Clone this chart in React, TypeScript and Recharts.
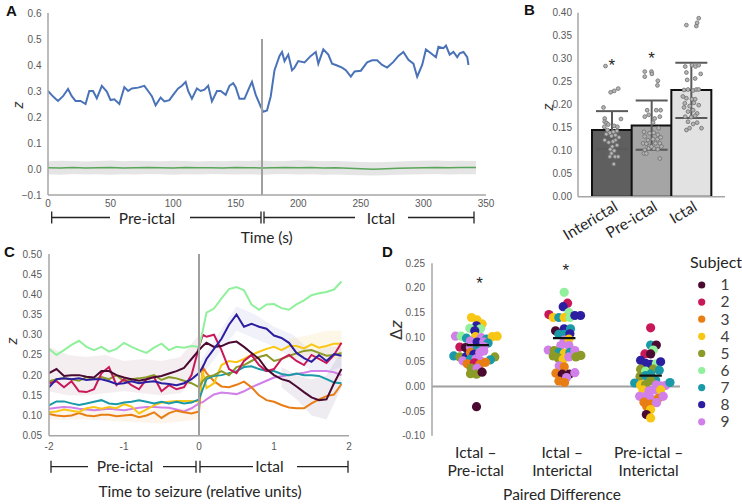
import React from 'react';
import {
  ComposedChart,
  Line,
  Area,
  Bar,
  ErrorBar,
  Scatter,
  Cell,
  XAxis,
  YAxis,
  ReferenceLine,
} from 'recharts';

// ---------- Panel A: z over the recording vs. null distribution
const aTime = [0, 3, 6, 8, 12, 16, 19, 22, 26, 30, 33, 36, 39, 43, 47, 50, 53, 57, 61, 64, 67, 72, 77, 80, 83, 86, 90, 93, 97, 100, 104, 107, 110, 112, 115, 119, 122, 125, 128, 131, 135, 138, 142, 145, 148, 150, 153, 157, 161, 163, 166, 170, 172, 175, 178, 181, 185, 187, 189, 192, 195, 197, 200, 205, 210, 214, 216, 220, 224, 227, 230, 235, 238, 242, 245, 250, 255, 259, 263, 267, 271, 276, 280, 284, 288, 292, 295, 299, 302, 306, 310, 312, 316, 318, 321, 324, 327, 329, 332, 335, 336];
const aZ = [0.30, 0.284, 0.27, 0.262, 0.28, 0.308, 0.28, 0.262, 0.262, 0.25, 0.30, 0.30, 0.272, 0.32, 0.298, 0.265, 0.268, 0.25, 0.315, 0.30, 0.31, 0.313, 0.32, 0.30, 0.28, 0.245, 0.275, 0.26, 0.265, 0.285, 0.31, 0.32, 0.335, 0.30, 0.27, 0.31, 0.30, 0.305, 0.32, 0.26, 0.30, 0.30, 0.285, 0.32, 0.33, 0.315, 0.27, 0.27, 0.315, 0.335, 0.285, 0.24, 0.22, 0.225, 0.28, 0.38, 0.435, 0.45, 0.415, 0.44, 0.38, 0.39, 0.415, 0.41, 0.435, 0.45, 0.405, 0.46, 0.44, 0.405, 0.40, 0.39, 0.38, 0.355, 0.375, 0.378, 0.41, 0.418, 0.418, 0.40, 0.39, 0.412, 0.435, 0.45, 0.42, 0.405, 0.355, 0.40, 0.46, 0.445, 0.43, 0.47, 0.465, 0.475, 0.44, 0.45, 0.43, 0.445, 0.45, 0.43, 0.40];
const aNullTime = [0, 10, 20, 30, 40, 50, 60, 70, 80, 90, 100, 110, 120, 130, 140, 150, 160, 170, 180, 190, 200, 210, 220, 230, 240, 250, 260, 270, 280, 290, 300, 310, 320, 330, 342];
const aNull = [0.005, 0.004, 0.006, 0.004, 0.005, 0.006, 0.004, 0.005, 0.006, 0.005, 0.004, 0.006, 0.005, 0.005, 0.004, 0.006, 0.005, 0.004, 0.005, 0.006, 0.005, 0.006, 0.004, 0.005, 0.003, 0.001, -0.001, 0.001, 0.003, 0.004, 0.005, 0.006, 0.005, 0.006, 0.006];
const aNullLow = [-0.02, -0.022, -0.019, -0.021, -0.02, -0.022, -0.02, -0.021, -0.019, -0.02, -0.022, -0.02, -0.021, -0.019, -0.02, -0.021, -0.02, -0.022, -0.02, -0.019, -0.021, -0.02, -0.022, -0.021, -0.023, -0.024, -0.025, -0.024, -0.022, -0.021, -0.02, -0.019, -0.021, -0.02, -0.02];
const aNullHigh = [0.03, 0.032, 0.031, 0.029, 0.031, 0.033, 0.03, 0.032, 0.031, 0.03, 0.032, 0.031, 0.029, 0.031, 0.03, 0.032, 0.031, 0.033, 0.03, 0.031, 0.034, 0.032, 0.03, 0.031, 0.029, 0.027, 0.026, 0.027, 0.029, 0.031, 0.032, 0.033, 0.031, 0.032, 0.031];
const aOnset = 171;
const aXTicks = [0, 50, 100, 150, 200, 250, 300, 350];
const aYTicks = [-0.1, 0, 0.1, 0.2, 0.3, 0.4, 0.5, 0.6];

// ---------- Panel B: mean z per state
const bCategories = ['Interictal', 'Pre-ictal', 'Ictal'];
const bMeans = [0.145, 0.155, 0.232];
const bSdLow = [0.104, 0.102, 0.171];
const bSdHigh = [0.186, 0.209, 0.291];
const bStars = [0.293, 0.309, 0.413];
const bYTicks = [0, 0.05, 0.1, 0.15, 0.2, 0.25, 0.3, 0.35, 0.4];
// [jitter, z]
const bInterictal: [number, number][] = [
  [-0.16, 0.284], [-0.03, 0.227], [0.06, 0.23], [0.16, 0.235], [-0.21, 0.194], [0.23, 0.169], [-0.18, 0.17],
  [-0.18, 0.163], [-0.13, 0.16], [-0.19, 0.152], [-0.09, 0.157], [0.06, 0.154], [0.14, 0.152], [-0.05, 0.139],
  [0.04, 0.141], [0.13, 0.143], [-0.14, 0.136], [-0.01, 0.132], [0.09, 0.134], [0.18, 0.129], [-0.18, 0.123],
  [-0.08, 0.118], [0.01, 0.109], [0.13, 0.112], [-0.04, 0.103], [0.06, 0.1], [-0.01, 0.094], [0.08, 0.087],
  [0.16, 0.087], [-0.05, 0.087], [0.05, 0.071], [-0.11, 0.145], [0.09, 0.123], [0.03, 0.12],
];
const bPreictal: [number, number][] = [
  [-0.17, 0.272], [0, 0.272], [0.01, 0.267], [-0.17, 0.261], [0.16, 0.252], [0.15, 0.242], [0.23, 0.188],
  [-0.11, 0.188], [0.12, 0.188], [-0.17, 0.174], [-0.07, 0.178], [0.08, 0.17], [0.21, 0.174], [0.04, 0.161],
  [0.18, 0.149], [-0.19, 0.141], [-0.05, 0.138], [0.06, 0.139], [0.16, 0.135], [-0.17, 0.131], [-0.09, 0.123],
  [0.04, 0.125], [0.15, 0.125], [0.23, 0.129], [-0.21, 0.116], [-0.13, 0.115], [-0.05, 0.11], [0.1, 0.116],
  [0.21, 0.116], [0.25, 0.109], [-0.17, 0.102], [-0.07, 0.105], [0.06, 0.105], [0.16, 0.103], [-0.19, 0.094],
  [0.21, 0.083], [0, 0.109], [-0.13, 0.094],
];
const bIctal: [number, number][] = [
  [-0.12, 0.373], [0.13, 0.371], [0.19, 0.388], [0.15, 0.378], [-0.15, 0.283], [0.02, 0.286], [0.11, 0.283],
  [0.19, 0.286], [-0.12, 0.27], [0.24, 0.267], [-0.1, 0.254], [0.1, 0.257], [-0.18, 0.232], [-0.08, 0.233],
  [0.05, 0.231], [0.13, 0.233], [0.19, 0.233], [-0.21, 0.218], [-0.12, 0.214], [0.02, 0.212], [0.1, 0.212],
  [-0.16, 0.203], [-0.04, 0.197], [0.07, 0.204], [0.19, 0.199], [-0.18, 0.194], [-0.08, 0.185], [0.05, 0.188],
  [0.15, 0.181], [-0.15, 0.174], [0, 0.173], [0.1, 0.176], [-0.08, 0.163], [0.05, 0.158], [0.15, 0.161],
  [-0.12, 0.145], [-0.04, 0.149], [0.26, 0.149],
];

// ---------- Panel C: per-subject z around seizure onset
const cTime = [-2, -1.9, -1.8, -1.7, -1.6, -1.5, -1.4, -1.3, -1.2, -1.1, -1, -0.9, -0.8, -0.7, -0.6, -0.5, -0.4, -0.3, -0.2, -0.1, 0, 0.05, 0.1, 0.2, 0.3, 0.4, 0.5, 0.6, 0.7, 0.8, 0.9, 1, 1.1, 1.2, 1.3, 1.4, 1.5, 1.6, 1.7, 1.8, 1.9];
const c1 = [0.205, 0.215, 0.198, 0.2, 0.2, 0.196, 0.194, 0.21, 0.21, 0.2, 0.194, 0.19, 0.186, 0.19, 0.195, 0.198, 0.204, 0.21, 0.218, 0.24, 0.262, 0.272, 0.28, 0.27, 0.272, 0.28, 0.283, 0.27, 0.255, 0.24, 0.215, 0.2, 0.19, 0.185, 0.172, 0.158, 0.145, 0.138, 0.14, 0.18, 0.215];
const c2 = [0.18, 0.185, 0.17, 0.185, 0.16, 0.158, 0.165, 0.205, 0.22, 0.175, 0.19, 0.175, 0.165, 0.19, 0.195, 0.16, 0.175, 0.165, 0.17, 0.2, 0.27, 0.3, 0.295, 0.3, 0.262, 0.215, 0.205, 0.235, 0.25, 0.225, 0.21, 0.215, 0.24, 0.25, 0.235, 0.225, 0.25, 0.24, 0.23, 0.25, 0.28];
const c3 = [0.104, 0.1, 0.098, 0.1, 0.106, 0.1, 0.098, 0.102, 0.102, 0.098, 0.1, 0.102, 0.096, 0.1, 0.108, 0.094, 0.106, 0.112, 0.108, 0.105, 0.11, 0.22, 0.205, 0.185, 0.172, 0.17, 0.176, 0.184, 0.17, 0.15, 0.138, 0.134, 0.126, 0.12, 0.118, 0.118, 0.13, 0.14, 0.148, 0.152, 0.178];
const c4 = [0.108, 0.11, 0.115, 0.112, 0.109, 0.118, 0.121, 0.117, 0.121, 0.118, 0.128, 0.122, 0.105, 0.115, 0.125, 0.132, 0.134, 0.136, 0.136, 0.136, 0.135, 0.21, 0.168, 0.18, 0.225, 0.235, 0.232, 0.24, 0.25, 0.258, 0.265, 0.27, 0.262, 0.272, 0.272, 0.266, 0.276, 0.268, 0.272, 0.278, 0.278];
const c5 = [0.185, 0.19, 0.192, 0.19, 0.186, 0.195, 0.19, 0.195, 0.19, 0.2, 0.185, 0.19, 0.192, 0.195, 0.2, 0.188, 0.195, 0.192, 0.186, 0.18, 0.17, 0.185, 0.195, 0.2, 0.21, 0.2, 0.22, 0.225, 0.235, 0.245, 0.25, 0.235, 0.24, 0.248, 0.254, 0.26, 0.262, 0.255, 0.248, 0.25, 0.255];
const c6 = [0.265, 0.25, 0.262, 0.275, 0.285, 0.27, 0.262, 0.27, 0.258, 0.265, 0.28, 0.27, 0.262, 0.255, 0.268, 0.278, 0.262, 0.27, 0.268, 0.272, 0.27, 0.31, 0.355, 0.365, 0.39, 0.413, 0.418, 0.41, 0.375, 0.362, 0.375, 0.376, 0.366, 0.362, 0.375, 0.385, 0.398, 0.403, 0.406, 0.412, 0.432];
const c7 = [0.125, 0.135, 0.135, 0.13, 0.126, 0.13, 0.134, 0.138, 0.13, 0.128, 0.132, 0.134, 0.138, 0.134, 0.13, 0.134, 0.13, 0.134, 0.13, 0.132, 0.14, 0.165, 0.19, 0.198, 0.2, 0.205, 0.21, 0.22, 0.222, 0.215, 0.21, 0.21, 0.203, 0.2, 0.204, 0.2, 0.2, 0.198, 0.19, 0.182, 0.18];
const c8 = [0.17, 0.19, 0.192, 0.19, 0.192, 0.188, 0.19, 0.19, 0.185, 0.178, 0.18, 0.185, 0.18, 0.183, 0.185, 0.18, 0.178, 0.175, 0.18, 0.19, 0.205, 0.22, 0.24, 0.265, 0.29, 0.325, 0.35, 0.32, 0.327, 0.32, 0.315, 0.298, 0.292, 0.28, 0.255, 0.242, 0.233, 0.25, 0.235, 0.252, 0.248];
const c9 = [0.117, 0.119, 0.121, 0.12, 0.117, 0.115, 0.113, 0.115, 0.117, 0.115, 0.113, 0.116, 0.119, 0.121, 0.121, 0.12, 0.119, 0.115, 0.11, 0.118, 0.13, 0.133, 0.14, 0.152, 0.157, 0.155, 0.153, 0.16, 0.17, 0.178, 0.186, 0.194, 0.197, 0.2, 0.203, 0.206, 0.21, 0.21, 0.21, 0.207, 0.2];
// shaded error bands: [time, low, high]
const cBandEarly: [number, number, number][] = [[-2, 0.16, 0.27], [-1.75, 0.15, 0.25], [-1.5, 0.15, 0.245], [-1.25, 0.155, 0.25], [-1, 0.16, 0.235], [-0.75, 0.155, 0.24], [-0.5, 0.15, 0.235], [-0.25, 0.155, 0.245], [0, 0.2, 0.3]];
const cBandLowEarly: [number, number, number][] = [[-2, 0.09, 0.115], [-1.5, 0.09, 0.115], [-1, 0.085, 0.11], [-0.5, 0.08, 0.115], [0, 0.09, 0.12]];
const cBandPeak: [number, number, number][] = [[0, 0.19, 0.23], [0.25, 0.25, 0.3], [0.5, 0.31, 0.37], [0.75, 0.29, 0.35], [1, 0.27, 0.32], [1.25, 0.24, 0.3], [1.5, 0.21, 0.26], [1.75, 0.21, 0.27], [1.9, 0.22, 0.27]];
const cBandLate: [number, number, number][] = [[1.1, 0.17, 0.22], [1.3, 0.14, 0.2], [1.5, 0.1, 0.19], [1.7, 0.09, 0.2], [1.9, 0.17, 0.26]];
const cBandHigh: [number, number, number][] = [[1.2, 0.24, 0.29], [1.5, 0.25, 0.3], [1.7, 0.24, 0.31], [1.9, 0.24, 0.31]];
const cXTicks = [-2, -1, 0, 1, 2];
const cYTicks = [0.05, 0.1, 0.15, 0.2, 0.25, 0.3, 0.35, 0.4, 0.45, 0.5];

// ---------- Panel D: paired differences, one dot per subject session
const subjects = [1, 2, 3, 4, 5, 6, 7, 8, 9];
const dPairs = [['Ictal \u2013', 'Pre-ictal'], ['Ictal \u2013', 'Interictal'], ['Pre-ictal \u2013', 'Interictal']];
// [jitter, delta z, subject]
const dIctalPre: [number, number, number][] = [
  [-0.073, 0.14, 4], [-0.008, 0.135, 4], [0.05, 0.127, 4], [-0.015, 0.123, 8], [-0.092, 0.118, 6], [0.031, 0.117, 6],
  [-0.035, 0.113, 8], [-0.258, 0.102, 9], [-0.193, 0.102, 6], [-0.131, 0.098, 7], [-0.027, 0.101, 4], [0.039, 0.099, 9],
  [0.1, 0.096, 7], [0.166, 0.101, 4], [0.224, 0.102, 4], [-0.085, 0.092, 9], [-0.008, 0.09, 8], [0.069, 0.09, 9],
  [0.119, 0.088, 7], [-0.208, 0.08, 2], [-0.143, 0.079, 1], [-0.085, 0.079, 9], [-0.008, 0.076, 7], [0.069, 0.081, 9],
  [-0.278, 0.062, 7], [-0.208, 0.06, 5], [-0.131, 0.061, 8], [-0.085, 0.069, 3], [-0.046, 0.065, 8], [0.023, 0.069, 9],
  [0.069, 0.072, 9], [0.197, 0.06, 5], [-0.173, 0.052, 9], [-0.085, 0.055, 7], [-0.019, 0.056, 9], [0.031, 0.052, 9],
  [0.146, 0.054, 7], [-0.123, 0.046, 3], [-0.039, 0.048, 2], [0.023, 0.045, 3], [0.089, 0.049, 3], [-0.077, 0.037, 5],
  [-0.008, 0.037, 9], [-0.085, 0.026, 5], [-0.015, 0.025, 5], [0.05, 0.029, 1], [-0.015, -0.041, 1],
];
const dIctalInter: [number, number, number][] = [
  [0, 0.191, 6], [0.039, 0.169, 2], [-0.012, 0.162, 8], [0.054, 0.15, 6], [-0.177, 0.146, 2], [-0.127, 0.14, 4],
  [-0.062, 0.14, 7], [0, 0.14, 4], [0.066, 0.14, 6], [0.123, 0.144, 8], [0.189, 0.144, 8], [-0.1, 0.113, 1],
  [0, 0.117, 8], [0.073, 0.117, 7], [-0.062, 0.106, 7], [0, 0.106, 7], [0.066, 0.107, 8], [0, 0.094, 9],
  [0.054, 0.096, 4], [-0.039, 0.083, 9], [0.054, 0.083, 9], [-0.185, 0.074, 9], [-0.116, 0.073, 5], [-0.062, 0.069, 7],
  [0, 0.067, 4], [0.066, 0.069, 7], [0.123, 0.073, 9], [-0.127, 0.062, 5], [-0.069, 0.058, 5], [-0.012, 0.055, 4],
  [0.054, 0.06, 9], [0.135, 0.06, 5], [0.193, 0.063, 5], [-0.058, 0.042, 9], [0, 0.04, 3], [-0.096, 0.027, 3],
  [-0.023, 0.025, 1], [0.058, 0.025, 1], [0.123, 0.028, 9], [0.027, 0.018, 9], [-0.062, 0.011, 3], [0.004, 0.008, 3],
];
const dPreInter: [number, number, number][] = [
  [0, 0.119, 2], [0, 0.084, 7], [0.066, 0.084, 1], [0.031, 0.074, 6], [-0.066, 0.066, 2], [0, 0.066, 1],
  [-0.116, 0.053, 8], [-0.058, 0.047, 8], [0, 0.045, 8], [0.066, 0.046, 6], [0.116, 0.05, 8], [-0.116, 0.035, 5],
  [-0.058, 0.031, 6], [0.031, 0.035, 5], [0.1, 0.033, 7], [-0.123, 0.02, 5], [-0.058, 0.022, 7], [0, 0.025, 7],
  [0.058, 0.013, 7], [-0.185, 0.007, 7], [-0.116, 0.003, 4], [-0.058, 0.004, 5], [0, 0.012, 5], [0.066, 0.003, 9],
  [0.116, 0.001, 9], [0.173, 0.002, 9], [0.224, 0.008, 7], [-0.089, -0.007, 4], [-0.019, -0.009, 9], [0.046, -0.007, 9],
  [0.116, -0.007, 4], [-0.127, -0.02, 9], [-0.069, -0.021, 9], [0, -0.024, 9], [0.089, -0.024, 3], [0.146, -0.02, 9],
  [-0.077, -0.032, 3], [0, -0.036, 3], [0.069, -0.033, 9], [-0.046, -0.04, 3], [0, -0.047, 4], [-0.05, -0.057, 1],
  [0, -0.064, 4],
];
const dMeans = [0.084, 0.098, 0.022];
const dStars = [0.216, 0.242];
const dYTicks = [-0.1, -0.05, 0, 0.05, 0.1, 0.15, 0.2, 0.25];

// ---------- styling
const TICK_FONT = '"Liberation Sans", Arial, sans-serif';
const LABEL_FONT = 'Lato, "Open Sans", sans-serif';
const TICK_COLOR = '#595959';
const TEXT_COLOR = '#262626';
const AXIS_COLOR = '#a6a6a6';
const SUBJECT_COLORS = ['#4a0a32', '#c8185a', '#e87d14', '#f8c614', '#8c9a28', '#90f09c', '#1a9aa8', '#2c1ea0', '#d080e8'];
const B_FILLS = ['#5f5f5f', '#a5a5a5', '#e2e2e2'];
const C_DRAW_ORDER = [9, 3, 4, 7, 5, 2, 1, 8, 6];
const MEAN_HALF_WIDTH = 0.13;

const tickStyle = { fill: TICK_COLOR, fontSize: 10, fontFamily: TICK_FONT };
const axisLine = { stroke: AXIS_COLOR, strokeWidth: 1.5 };

// ---------- derived tables
const aZData = aTime.map((t, i) => ({ t, v: aZ[i] }));
const aNullData = aNullTime.map((t, i) => ({ t, v: aNull[i], band: [aNullLow[i], aNullHigh[i]] }));

const bBarData = bCategories.map((name, i) => ({
  name,
  value: bMeans[i],
  err: [bMeans[i] - bSdLow[i], bSdHigh[i] - bMeans[i]],
}));
const bPoints = [bInterictal, bPreictal, bIctal].flatMap((pts, c) => pts.map(([dx, v]) => ({ x: c + dx, y: v })));
const bStarData = bStars.map((v, i) => ({ x: i, y: v }));

const cSeries = [c1, c2, c3, c4, c5, c6, c7, c8, c9];
const cData = cTime.map((t, i) => {
  const row: Record<string, number> = { t };
  cSeries.forEach((s, k) => {
    row[`s${k + 1}`] = s[i];
  });
  return row;
});
const toBand = (b: [number, number, number][]) => b.map(([t, lo, hi]) => ({ t, band: [lo, hi] }));
const cBands = [
  { data: toBand(cBandEarly), fill: '#a77c95', opacity: 0.13 },
  { data: toBand(cBandLowEarly), fill: '#f0b27a', opacity: 0.15 },
  { data: toBand(cBandPeak), fill: '#8e8ad6', opacity: 0.12 },
  { data: toBand(cBandLate), fill: '#8f7a9e', opacity: 0.15 },
  { data: toBand(cBandHigh), fill: '#f3d27a', opacity: 0.18 },
];

const dGroups = [dIctalPre, dIctalInter, dPreInter].map((pts, c) =>
  pts.map(([dx, v, s]) => ({ x: c + dx, y: v, s })),
);
const dMeanSegments = dMeans.map((m, i) => [
  { x: i - MEAN_HALF_WIDTH, y: m },
  { x: i + MEAN_HALF_WIDTH, y: m },
]);
const dStarData = dStars.map((v, i) => ({ x: i + 0.02, y: v }));

// ---------- shapes
const StarShape = (props: any) => (
  <text x={props.cx} y={props.cy + 9} textAnchor="middle" fontSize={17} fontFamily={TICK_FONT} fill="#262626">
    *
  </text>
);

const HollowDot = (props: any) => (
  <circle cx={props.cx} cy={props.cy} r={1.9} fill="#b4b4b4" stroke="#6e6e6e" strokeWidth={0.8} />
);

const SubjectDot = (props: any) => (
  <circle cx={props.cx} cy={props.cy} r={4.6} fill={SUBJECT_COLORS[props.payload.s - 1]} />
);

const NoDot = () => <g />;

const fmt1 = (v: number) => (v < -1e-9 ? `\u2212${Math.abs(v).toFixed(1)}` : Math.abs(v).toFixed(1));
const fmt2 = (v: number) => v.toFixed(2);

// y ticks of panel A drawn by hand so the minus sign is kept
const ATick = (props: any) => {
  const { x, y, payload } = props;
  return (
    <text x={x} y={y} dy="0.355em" textAnchor="end" {...tickStyle}>
      {fmt1(payload.value)}
    </text>
  );
};

const BTick = (props: any) => {
  const { x, y, payload } = props;
  return (
    <g transform={`translate(${x + 7},${y + 11}) rotate(-31)`}>
      <text textAnchor="end" fontSize={15.5} fontFamily={LABEL_FONT} fill={TEXT_COLOR}>
        {payload.value}
      </text>
    </g>
  );
};

const DTick = (props: any) => {
  const { x, y, payload } = props;
  const lines = dPairs[payload.value] || [];
  return (
    <g>
      {lines.map((line, i) => (
        <text key={i} x={x - 2} y={y + 21.8 + i * 18.5} textAnchor="middle" fontSize={15.5} fontFamily={LABEL_FONT} fill={TEXT_COLOR}>
          {line}
        </text>
      ))}
    </g>
  );
};

// ---------- panels
const PanelA = () => (
  <ComposedChart width={500} height={215} margin={{ top: 13, right: 14, bottom: 0, left: 0 }}>
    <XAxis
      type="number"
      dataKey="t"
      domain={[0, 350]}
      ticks={aXTicks}
      allowDataOverflow
      axisLine={axisLine}
      tickLine={false}
      tickSize={0}
      tickMargin={4.5}
      height={20}
      interval={0}
      tick={tickStyle}
    />
    <YAxis
      type="number"
      domain={[-0.1, 0.6]}
      ticks={aYTicks}
      allowDataOverflow
      width={48}
      axisLine={axisLine}
      tickLine={false}
      tickSize={0}
      tickMargin={6.5}
      interval={0}
      tick={<ATick />}
    />
    <Area data={aNullData} dataKey="band" stroke="none" fill="#d0d0d0" fillOpacity={0.55} isAnimationActive={false} />
    <Line data={aNullData} dataKey="v" stroke="#5aa55a" strokeWidth={1.5} dot={false} isAnimationActive={false} />
    <Line data={aZData} dataKey="v" stroke="#4a72b8" strokeWidth={2} dot={false} isAnimationActive={false} />
    <ReferenceLine
      segment={[{ x: aOnset, y: -0.1 }, { x: aOnset, y: 0.5 }]}
      stroke="#a0a0a0"
      strokeWidth={2}
    />
  </ComposedChart>
);

const PanelB = () => (
  <ComposedChart
    width={222}
    height={260}
    data={bBarData}
    barCategoryGap={0}
    margin={{ top: 12.7, right: 17, bottom: 0, left: 0 }}
  >
    <XAxis
      xAxisId="cat"
      dataKey="name"
      padding={{ left: 14, right: 14 }}
      axisLine={axisLine}
      tickLine={false}
      tickSize={0}
      height={63.3}
      interval={0}
      tick={<BTick />}
    />
    <XAxis xAxisId="num" type="number" dataKey="x" domain={[-0.853, 2.853]} allowDataOverflow hide />
    <YAxis
      type="number"
      domain={[0, 0.4]}
      ticks={bYTicks}
      allowDataOverflow
      width={58}
      axisLine={axisLine}
      tickLine={false}
      tickSize={0}
      tickMargin={6}
      interval={0}
      tick={tickStyle}
      tickFormatter={fmt2}
    />
    <Bar xAxisId="cat" dataKey="value" stroke="#111" strokeWidth={2} isAnimationActive={false}>
      {bBarData.map((d, i) => (
        <Cell key={d.name} fill={B_FILLS[i]} />
      ))}
      <ErrorBar dataKey="err" width={16} strokeWidth={2} stroke="#5a5a5a" direction="y" />
    </Bar>
    <Scatter xAxisId="num" data={bPoints} dataKey="y" shape={HollowDot} isAnimationActive={false} />
    <Scatter xAxisId="num" data={bStarData} dataKey="y" shape={StarShape} isAnimationActive={false} />
  </ComposedChart>
);

const PanelC = () => (
  <ComposedChart width={370} height={205} data={cData} margin={{ top: 4, right: 21, bottom: 0, left: 0 }}>
    <XAxis
      type="number"
      dataKey="t"
      domain={[-2, 2]}
      ticks={cXTicks}
      allowDataOverflow
      axisLine={axisLine}
      tickLine={false}
      tickSize={0}
      tickMargin={7}
      height={19.3}
      interval={0}
      tick={tickStyle}
    />
    <YAxis
      type="number"
      domain={[0.05, 0.5]}
      ticks={cYTicks}
      allowDataOverflow
      width={49}
      axisLine={axisLine}
      tickLine={false}
      tickSize={0}
      tickMargin={7}
      interval={0}
      tick={tickStyle}
      tickFormatter={fmt2}
    />
    {cBands.map((b, i) => (
      <Area
        key={`band${i}`}
        data={b.data}
        dataKey="band"
        stroke="none"
        fill={b.fill}
        fillOpacity={b.opacity}
        isAnimationActive={false}
      />
    ))}
    {C_DRAW_ORDER.map((s) => (
      <Line
        key={`s${s}`}
        dataKey={`s${s}`}
        stroke={SUBJECT_COLORS[s - 1]}
        strokeWidth={2}
        dot={false}
        isAnimationActive={false}
      />
    ))}
    <ReferenceLine x={0} stroke="#a0a0a0" strokeWidth={2} />
  </ComposedChart>
);

const PanelD = () => (
  <ComposedChart width={330} height={254} margin={{ top: 13.3, right: 30, bottom: 0, left: 0 }}>
    <XAxis
      type="number"
      dataKey="x"
      domain={[-0.53, 2.34]}
      ticks={[0, 1, 2]}
      allowDataOverflow
      axisLine={false}
      tickLine={false}
      tickSize={0}
      tickMargin={0}
      height={68.3}
      interval={0}
      tick={<DTick />}
    />
    <YAxis
      type="number"
      domain={[-0.1, 0.25]}
      ticks={dYTicks}
      allowDataOverflow
      width={52}
      axisLine={axisLine}
      tickLine={false}
      tickSize={0}
      tickMargin={7}
      interval={0}
      tick={tickStyle}
      tickFormatter={fmt2}
    />
    <ReferenceLine y={0} stroke="#a0a0a0" strokeWidth={2} />
    {dGroups.map((g, i) => (
      <Scatter key={`grp${i}`} data={g} dataKey="y" shape={SubjectDot} isAnimationActive={false} />
    ))}
    {dMeanSegments.map((seg, i) => (
      <Scatter
        key={`mean${i}`}
        data={seg}
        dataKey="y"
        shape={NoDot}
        line={{ stroke: '#111', strokeWidth: 2.2 }}
        isAnimationActive={false}
      />
    ))}
    <Scatter data={dStarData} dataKey="y" shape={StarShape} isAnimationActive={false} />
  </ComposedChart>
);

// ---------- annotations outside the plot areas
const labelText = { fontFamily: LABEL_FONT, fontSize: 15.5, fill: TEXT_COLOR } as const;
const letterText = { fontFamily: TICK_FONT, fontSize: 15, fontWeight: 700, fill: '#111' } as const;

const Bracket = ({ segs, ticks, y }: { segs: [number, number][]; ticks: number[]; y: number }) => (
  <g stroke="#222" strokeWidth={1.3}>
    {segs.map(([x1, x2], i) => (
      <line key={`s${i}`} x1={x1} x2={x2} y1={y} y2={y} />
    ))}
    {ticks.map((x, i) => (
      <line key={`t${i}`} x1={x} x2={x} y1={y - 6} y2={y + 6} />
    ))}
  </g>
);

const Overlay = () => (
  <svg width={742} height={504} style={{ position: 'absolute', left: 0, top: 0, pointerEvents: 'none' }}>
    <text x={6} y={16} {...letterText}>A</text>
    <text x={524} y={15} {...letterText}>B</text>
    <text x={4} y={257} {...letterText}>C</text>
    <text x={382} y={257} {...letterText}>D</text>

    {/* axis titles */}
    <text x={0} y={0} transform="translate(23,105) rotate(-90)" textAnchor="middle" fontFamily={TICK_FONT} fontStyle="italic" fontSize={14} fill="#333">z</text>
    <text x={0} y={0} transform="translate(553,107) rotate(-90)" textAnchor="middle" fontFamily={TICK_FONT} fontStyle="italic" fontSize={14} fill="#333">z</text>
    <text x={0} y={0} transform="translate(17,341) rotate(-90)" textAnchor="middle" fontFamily={TICK_FONT} fontStyle="italic" fontSize={14} fill="#333">z</text>
    <text x={0} y={0} transform="translate(402,330) rotate(-90)" textAnchor="middle" fontFamily={TICK_FONT} fontSize={17} fill="#333">
      {'\u0394'}<tspan fontStyle="italic">z</tspan>
    </text>

    {/* panel A time brackets */}
    <Bracket segs={[[51.7, 110], [190, 261], [264, 355], [408, 474]]} ticks={[51.7, 261, 264, 474]} y={217.5} />
    <text x={147} y={223.5} textAnchor="middle" {...labelText}>Pre-ictal</text>
    <text x={381} y={223.5} textAnchor="middle" {...labelText}>Ictal</text>
    <text x={266.7} y={243} textAnchor="middle" {...labelText}>Time (s)</text>

    {/* panel C time brackets */}
    <Bracket segs={[[51, 88], [163, 196], [200, 253], [297, 348]]} ticks={[51, 196, 200, 348]} y={466.7} />
    <text x={125} y={471.5} textAnchor="middle" {...labelText}>Pre-ictal</text>
    <text x={269.5} y={471.5} textAnchor="middle" {...labelText}>Ictal</text>
    <text x={200} y={497} textAnchor="middle" {...labelText}>Time to seizure (relative units)</text>

    {/* panel D */}
    <text x={562} y={500} textAnchor="middle" {...labelText}>Paired Difference</text>
    <text x={690} y={268} {...labelText} fontSize={16}>Subject</text>
    {subjects.map((s, i) => (
      <g key={s}>
        <circle cx={701.7} cy={285 + i * 17.1} r={3.6} fill={SUBJECT_COLORS[i]} />
        <text x={725} y={290.3 + i * 17.1} textAnchor="middle" {...labelText} fill="#404040">
          {s}
        </text>
      </g>
    ))}
  </svg>
);

export default function App() {
  return (
    <div
      style={{
        position: 'absolute',
        left: 0,
        top: 0,
        width: 742,
        height: 504,
        background: '#fff',
        overflow: 'hidden',
      }}
    >
      <div style={{ position: 'absolute', left: 0, top: 0 }}>
        <PanelA />
      </div>
      <div style={{ position: 'absolute', left: 520, top: 0 }}>
        <PanelB />
      </div>
      <div style={{ position: 'absolute', left: 0, top: 250 }}>
        <PanelC />
      </div>
      <div style={{ position: 'absolute', left: 380, top: 250 }}>
        <PanelD />
      </div>
      <Overlay />
    </div>
  );
}
